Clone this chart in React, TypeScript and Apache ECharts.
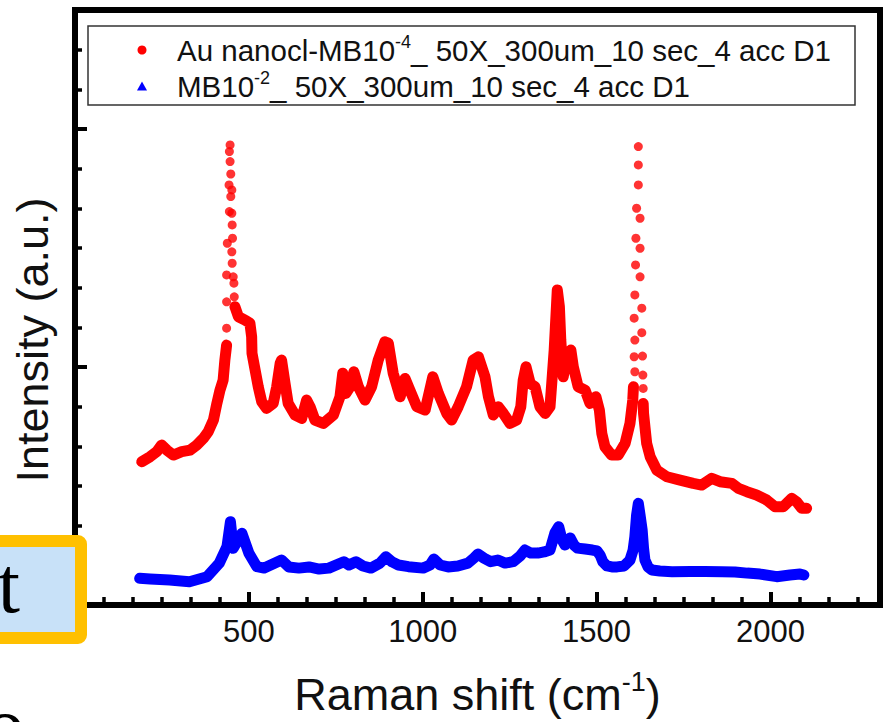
import React, { useEffect, useRef } from "react";
import * as echarts from "echarts";

// ---------- data ----------
const RED_NAME = "Au nanocl-MB10-4_ 50X_300um_10 sec_4 acc D1";
const BLUE_NAME = "MB10-2_ 50X_300um_10 sec_4 acc D1";

const xTickLabels = [500, 1000, 1500, 2000];

// red spectrum: continuous band before the 446 cm-1 peak
const redRise: [number, number][] = [
  [192, 602], [216, 623], [235, 644], [249, 672], [264, 651], [283, 630],
  [307, 644], [331, 651], [350, 672], [369, 700], [383, 728], [398, 777],
  [408, 847], [417, 903], [426, 945], [431, 1029], [436, 1092],
];

// red: separated dots along the 446 cm-1 peak
const redPeak446: [number, number][] = [
  [436, 1163], [436, 1274], [458, 1295], [457, 1352], [455, 1379], [436, 1387],
  [452, 1436], [451, 1484], [438, 1520], [453, 1541], [452, 1597], [451, 1646],
  [444, 1653], [448, 1716], [451, 1744], [443, 1765], [448, 1811], [446, 1863],
  [444, 1905], [446, 1933],
];

// red: band between the two strong peaks
const redMid: [number, number][] = [
  [460, 1253], [470, 1211], [489, 1197], [503, 1184], [508, 1127], [509, 1058],
  [518, 987], [527, 917], [537, 854], [551, 826], [570, 847], [580, 917],
  [590, 1016], [594, 1029], [604, 931], [613, 847], [633, 798], [652, 784],
  [666, 861], [676, 833], [690, 777], [714, 763], [743, 798], [762, 875],
  [770, 974], [779, 889], [791, 917], [802, 980], [815, 917], [834, 861],
  [853, 917], [872, 1029], [891, 1106], [901, 1100], [915, 974], [935, 875],
  [949, 952], [963, 903], [983, 833], [1007, 819], [1029, 959], [1045, 889],
  [1069, 805], [1083, 777], [1102, 833], [1126, 917], [1145, 1029], [1160, 1043],
  [1179, 959], [1189, 875], [1203, 798], [1217, 833], [1232, 805], [1251, 763],
  [1270, 777], [1282, 833], [1289, 945], [1297, 1001], [1309, 931], [1323, 917],
  [1337, 833], [1352, 805], [1366, 833], [1371, 931], [1378, 1071], [1383, 1211],
  [1387, 1324], [1393, 1253], [1397, 1113], [1404, 959], [1416, 1058], [1426, 1071],
  [1433, 1001], [1447, 917], [1467, 903], [1481, 847], [1498, 875], [1508, 819],
  [1515, 721], [1524, 665], [1543, 630], [1562, 630], [1582, 679], [1596, 763],
  [1604, 861], [1606, 917],
];

// red: separated dots along the 1624 cm-1 peak
const redPeak1624: [number, number][] = [
  [1610, 980], [1608, 1043], [1610, 1113], [1608, 1205], [1610, 1303], [1612, 1429],
  [1613, 1541], [1615, 1667], [1620, 1765], [1620, 1849], [1620, 1926], [1625, 1625],
  [1625, 1499], [1625, 1379], [1630, 1247], [1630, 1144], [1632, 1046], [1633, 966],
  [1634, 910],
];

// red: tail after the 1624 cm-1 peak
const redTail: [number, number][] = [
  [1634, 847], [1635, 805], [1639, 749], [1644, 679], [1654, 623], [1673, 567],
  [1702, 539], [1740, 525], [1778, 511], [1802, 504], [1831, 532], [1855, 518],
  [1889, 511], [1908, 490], [1932, 476], [1960, 462], [1989, 441], [2013, 413],
  [2037, 413], [2061, 448], [2075, 434], [2090, 406], [2104, 406],
];

// blue spectrum
const blueSpectrum: [number, number][] = [
  [186, 112], [216, 109], [272, 105], [329, 98], [380, 119], [415, 176],
  [437, 245], [447, 350], [455, 238], [480, 301], [500, 218], [523, 161],
  [544, 155], [594, 189], [615, 160], [644, 155], [673, 160], [702, 151],
  [730, 155], [773, 182], [788, 168], [808, 182], [828, 164], [851, 155],
  [877, 176], [894, 203], [912, 181], [930, 168], [959, 161], [1001, 155],
  [1021, 168], [1032, 193], [1050, 168], [1073, 160], [1101, 164], [1130, 176],
  [1147, 197], [1159, 214], [1176, 197], [1195, 182], [1216, 189], [1237, 176],
  [1260, 182], [1280, 206], [1294, 231], [1311, 218], [1331, 218], [1349, 223],
  [1366, 231], [1380, 303], [1391, 329], [1401, 273], [1409, 252], [1424, 282],
  [1435, 252], [1445, 239], [1467, 235], [1488, 231], [1501, 227], [1510, 210],
  [1518, 181], [1530, 164], [1544, 160], [1559, 160], [1579, 164], [1596, 189],
  [1605, 231], [1610, 287], [1615, 378], [1620, 427], [1625, 378], [1631, 315],
  [1635, 239], [1639, 189], [1648, 160], [1659, 147], [1682, 143], [1717, 140],
  [1769, 141], [1812, 141], [1861, 140], [1898, 139], [1933, 134], [1970, 130],
  [2018, 119], [2056, 126], [2085, 130], [2096, 126],
];

// ---------- styling ----------
const FONT = '"Liberation Sans", Arial, Helvetica, sans-serif';
const SERIF = '"Liberation Serif", "Times New Roman", serif';
const RED = "#FF0000";
const BLUE = "#0000FF";
const INK = "#111111";

export default function App() {
  const ref = useRef<HTMLDivElement>(null);

  useEffect(() => {
    document.body.style.margin = "0";
    if (!ref.current) return;
    const chart = echarts.init(ref.current, undefined, { renderer: "svg" });

    const redLine = (data: [number, number][]) => ({
      type: "line",
      name: RED_NAME,
      data,
      showSymbol: false,
      symbol: "circle",
      silent: true,
      z: 3,
      itemStyle: { color: RED },
      lineStyle: { color: RED, width: 11, cap: "round", join: "round" },
    });

    const option: any = {
      animation: false,
      backgroundColor: "#ffffff",
      grid: {
        left: 75,
        right: 8,
        top: 10,
        bottom: 117,
        show: true,
        borderColor: "#000",
        borderWidth: 6,
        backgroundColor: "transparent",
        containLabel: false,
        outerBoundsMode: "none",
      },
      legend: {
        show: true,
        orient: "vertical",
        left: 137,
        top: 33,
        padding: 0,
        itemWidth: 10,
        itemHeight: 9,
        itemGap: 4,
        selectedMode: false,
        symbolKeepAspect: true,
        itemStyle: { borderWidth: 0 },
        data: [
          { name: RED_NAME, icon: "circle" },
          { name: BLUE_NAME, icon: "triangle" },
        ],
        formatter: (n: string) =>
          n === RED_NAME
            ? "{g| }{t|Au nanocl-MB10}{s|-4}{t|_ 50X_300um_10 sec_4 acc D1}"
            : "{g| }{t|MB10}{s|-2}{t|_ 50X_300um_10 sec_4 acc D1}",
        textStyle: {
          color: INK,
          fontFamily: FONT,
          fontSize: 29.5,
          rich: {
            g: { width: 25, fontSize: 29.5, lineHeight: 34 },
            t: { fontSize: 29.5, fontFamily: FONT, color: INK, lineHeight: 34 },
            s: { fontSize: 18, fontFamily: FONT, color: INK, verticalAlign: "top", lineHeight: 22 },
          },
        },
      },
      xAxis: [
        {
          type: "value",
          min: 0,
          max: 2315,
          interval: 500,
          position: "bottom",
          axisLine: { show: true, lineStyle: { color: "#000", width: 6 } },
          axisTick: { show: true, inside: true, length: 13, lineStyle: { color: "#000", width: 4 } },
          splitLine: { show: false },
          axisLabel: {
            show: true,
            margin: 11,
            fontSize: 31,
            fontFamily: FONT,
            color: INK,
            formatter: (v: number) => (xTickLabels.includes(v) ? String(v) : ""),
          },
          name: "{t|Raman shift (cm}{s|-1}{t|)}",
          nameLocation: "middle",
          nameGap: 63,
          nameTextStyle: {
            fontSize: 45,
            fontFamily: FONT,
            color: INK,
            rich: {
              t: { fontSize: 45, fontFamily: FONT, color: INK, lineHeight: 52 },
              s: { fontSize: 27, fontFamily: FONT, color: INK, verticalAlign: "top", lineHeight: 30 },
            },
          },
        },
        {
          type: "value",
          min: 0,
          max: 2315,
          interval: 500 / 6,
          position: "bottom",
          axisLine: { show: false },
          axisTick: { show: true, inside: true, length: 8, lineStyle: { color: "#000", width: 3.5 } },
          axisLabel: { show: false },
          splitLine: { show: false },
        },
      ],
      yAxis: [
        {
          type: "value",
          min: 0,
          max: 2500,
          interval: 1000,
          position: "left",
          axisLine: { show: true, lineStyle: { color: "#000", width: 6 } },
          axisTick: { show: true, inside: true, length: 12, lineStyle: { color: "#000", width: 4 } },
          axisLabel: { show: false },
          splitLine: { show: false },
        },
        {
          type: "value",
          min: 0,
          max: 2500,
          interval: 1000 / 6,
          position: "left",
          offset: 0,
          axisLine: { show: false },
          axisTick: { show: true, inside: true, length: 7, lineStyle: { color: "#000", width: 3.5 } },
          axisLabel: { show: false },
          splitLine: { show: false },
        },
      ],
      series: [
        redLine(redRise),
        redLine(redMid),
        redLine(redTail),
        {
          type: "scatter",
          name: RED_NAME,
          data: [...redPeak446, ...redPeak1624],
          symbol: "circle",
          symbolSize: 9,
          silent: true,
          z: 4,
          itemStyle: { color: RED },
        },
        {
          type: "line",
          name: BLUE_NAME,
          data: blueSpectrum,
          showSymbol: false,
          symbol: "triangle",
          silent: true,
          z: 3,
          itemStyle: { color: BLUE },
          lineStyle: { color: BLUE, width: 11, cap: "round", join: "round" },
        },
      ],
      graphic: [
        {
          type: "rect",
          z: 50,
          shape: { x: 88, y: 26, width: 767, height: 79 },
          style: { fill: "none", stroke: "#333", lineWidth: 1.5 },
        },
        {
          type: "text",
          z: 50,
          x: 32,
          y: 340,
          rotation: Math.PI / 2,
          style: {
            text: "Intensity (a.u.)",
            fontSize: 45,
            fontFamily: FONT,
            fill: INK,
            align: "center",
            verticalAlign: "middle",
            textAlign: "center",
            textVerticalAlign: "middle",
          },
        },
        {
          type: "rect",
          z: 60,
          shape: { x: -10, y: 541, width: 91, height: 97, r: 3 },
          style: { fill: "#C8E1F8", stroke: "#FFC000", lineWidth: 12 },
        },
        {
          type: "text",
          z: 61,
          x: 20,
          y: 585,
          style: {
            text: "t",
            fontSize: 80,
            fontFamily: SERIF,
            fill: "#000",
            align: "right",
            verticalAlign: "middle",
            textAlign: "right",
            textVerticalAlign: "middle",
          },
        },
        {
          type: "text",
          z: 61,
          x: 5,
          y: 725,
          style: {
            text: "o",
            fontSize: 80,
            fontFamily: SERIF,
            fill: "#000",
            align: "center",
            verticalAlign: "middle",
            textAlign: "center",
            textVerticalAlign: "middle",
          },
        },
      ],
    };

    chart.setOption(option);
    return () => chart.dispose();
  }, []);

  return (
    <div
      ref={ref}
      style={{ position: "absolute", left: 0, top: 0, width: 888, height: 722, background: "#fff" }}
    />
  );
}
